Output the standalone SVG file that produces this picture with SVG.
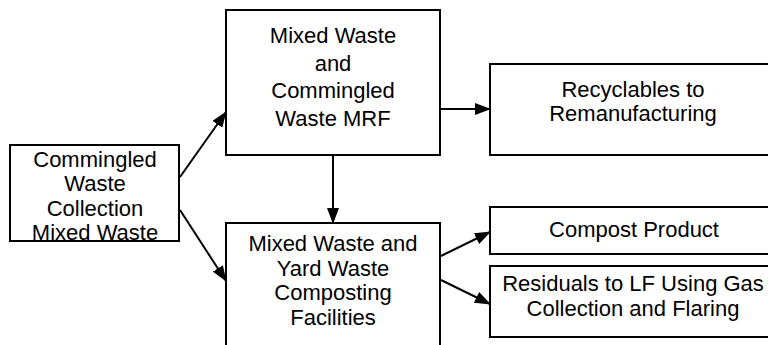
<svg xmlns="http://www.w3.org/2000/svg" width="768" height="345" viewBox="0 0 768 345">
<style>
.box{fill:#fff;stroke:#000;stroke-width:2}
.t{font-family:"Liberation Sans",Arial,sans-serif;font-size:22px;fill:#000;text-anchor:middle}
.c{stroke:#000;stroke-width:2;fill:none;marker-end:url(#ah)}
</style>
<defs>
<marker id="ah" markerWidth="16" markerHeight="12" refX="15" refY="6" orient="auto" markerUnits="userSpaceOnUse">
<path d="M0,0 L16,6 L0,12 Z" fill="#000"/>
</marker>
</defs>
<rect width="768" height="345" fill="#fff"/>
<g id="connectors">
<line class="c" x1="180" y1="177" x2="226" y2="112"/>
<line class="c" x1="180" y1="210" x2="226" y2="281"/>
<line class="c" x1="441" y1="109" x2="490" y2="109"/>
<line class="c" x1="333" y1="156" x2="333" y2="223"/>
<line class="c" x1="441" y1="256" x2="490" y2="232"/>
<line class="c" x1="441" y1="280" x2="490" y2="304"/>
</g>
<g id="collection">
<rect class="box" x="10" y="145" width="169" height="96"/>
<text class="t" x="95" y="167">Commingled</text>
<text class="t" x="95" y="191">Waste</text>
<text class="t" x="95" y="216">Collection</text>
<text class="t" x="95" y="240">Mixed Waste</text>
</g>
<g id="mrf">
<rect class="box" x="226" y="10" width="214" height="145"/>
<text class="t" x="333" y="43">Mixed Waste</text>
<text class="t" x="333" y="71">and</text>
<text class="t" x="333" y="98">Commingled</text>
<text class="t" x="333" y="126">Waste MRF</text>
</g>
<g id="recyclables">
<rect class="box" x="490" y="64" width="290" height="91"/>
<text class="t" x="633" y="97">Recyclables to</text>
<text class="t" x="633" y="121">Remanufacturing</text>
</g>
<g id="composting">
<rect class="box" x="226" y="223" width="214" height="130"/>
<text class="t" x="333" y="251">Mixed Waste and</text>
<text class="t" x="333" y="276">Yard Waste</text>
<text class="t" x="333" y="300">Composting</text>
<text class="t" x="333" y="325">Facilities</text>
</g>
<g id="compost">
<rect class="box" x="490" y="207" width="290" height="47"/>
<text class="t" x="634" y="237">Compost Product</text>
</g>
<g id="residuals">
<rect class="box" x="490" y="266" width="290" height="71"/>
<text class="t" x="633" y="291">Residuals to LF Using Gas</text>
<text class="t" x="633" y="316">Collection and Flaring</text>
</g>
</svg>
